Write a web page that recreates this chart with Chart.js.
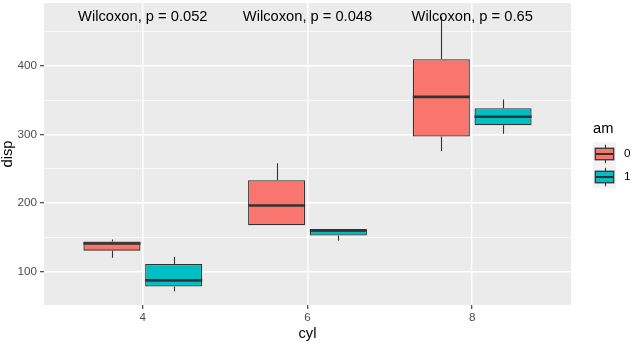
<!DOCTYPE html>
<html><head><meta charset="utf-8">
<script src="https://cdn.jsdelivr.net/npm/chart.js@4/dist/chart.umd.min.js"></script>
<style>html,body{margin:0;padding:0;background:#fff;}#wrap{width:637px;height:345px;position:relative;}</style>
</head><body><div id="wrap"><canvas id="c" width="637" height="345"></canvas></div>
<script>
// categories (cyl) and groups (am)
const categories = ['4', '6', '8'];
const groups = ['0', '1'];
// five-number summaries of disp, am = 0
const am0Min = [120.1, 167.6, 275.8];
const am0Q1  = [130.45, 167.6, 296.95];
const am0Med = [140.8, 196.3, 355.0];
const am0Q3  = [143.75, 233.25, 410.0];
const am0Max = [146.7, 258.0, 472.0];
// five-number summaries of disp, am = 1
const am1Min = [71.1, 145.0, 301.0];
const am1Q1  = [77.95, 152.5, 313.5];
const am1Med = [87.05, 160.0, 326.0];
const am1Q3  = [111.075, 160.0, 338.5];
const am1Max = [121.0, 160.0, 351.0];
// annotations
const pLabels = ['Wilcoxon, p = 0.052', 'Wilcoxon, p = 0.048', 'Wilcoxon, p = 0.65'];
const pLabelY = [472, 472, 472];
// tick values
const yMajorTicks = [100, 200, 300, 400];
const yMinorTicks = [150, 250, 350, 450];
const xTickPositions = [1, 2, 3];

const FONT = '"Liberation Sans", Arial, "DejaVu Sans", sans-serif';
const colors = ['#F8766D', '#00BFC4'];
const stats = [
  {min: am0Min, q1: am0Q1, med: am0Med, q3: am0Q3, max: am0Max},
  {min: am1Min, q1: am1Q1, med: am1Med, q3: am1Q3, max: am1Max}
];

const datasets = stats.map((s, gi) => ({
  label: groups[gi],
  data: categories.map((c, i) => ({x: xTickPositions[i], y: [s.q1[i], s.q3[i]]})),
  backgroundColor: colors[gi],
  borderColor: '#333333',
  borderWidth: 1.3,
  borderSkipped: false,
  barPercentage: 0.924,
  categoryPercentage: 0.75
}));

const panelBg = {
  id: 'panelBg',
  beforeDraw(chart) {
    const {ctx, chartArea: a} = chart;
    ctx.save();
    ctx.fillStyle = '#EBEBEB';
    ctx.fillRect(a.left, a.top, a.right - a.left, a.bottom - a.top);
    ctx.restore();
  }
};

const boxExtras = {
  id: 'boxExtras',
  afterDatasetsDraw(chart) {
    const ctx = chart.ctx, ys = chart.scales.y;
    stats.forEach((s, di) => {
      const meta = chart.getDatasetMeta(di);
      meta.data.forEach((bar, i) => {
        const x = Math.round(bar.x) + 0.5;
        const w = bar.width;
        ctx.save();
        ctx.strokeStyle = '#333333';
        ctx.lineWidth = 1.1;
        ctx.beginPath();
        ctx.moveTo(x, ys.getPixelForValue(s.q3[i]));
        ctx.lineTo(x, ys.getPixelForValue(s.max[i]));
        ctx.moveTo(x, ys.getPixelForValue(s.q1[i]));
        ctx.lineTo(x, ys.getPixelForValue(s.min[i]));
        ctx.stroke();
        ctx.lineWidth = 2.6;
        ctx.beginPath();
        const ym = ys.getPixelForValue(s.med[i]);
        ctx.moveTo(bar.x - w / 2, ym);
        ctx.lineTo(bar.x + w / 2, ym);
        ctx.stroke();
        ctx.restore();
      });
    });
  }
};

const annotations = {
  id: 'annotations',
  afterDraw(chart) {
    const ctx = chart.ctx, xs = chart.scales.x, ys = chart.scales.y;
    ctx.save();
    ctx.fillStyle = '#000000';
    ctx.font = '14.7px ' + FONT;
    ctx.textAlign = 'center';
    ctx.textBaseline = 'middle';
    pLabels.forEach((t, i) => {
      ctx.fillText(t, xs.getPixelForValue(xTickPositions[i]), ys.getPixelForValue(pLabelY[i]));
    });
    ctx.restore();
  }
};

const boxLegend = {
  id: 'boxLegend',
  afterDraw(chart) {
    const ctx = chart.ctx, a = chart.chartArea;
    const left = a.right + 22;
    const key = 23;
    const top0 = 142.5;
    ctx.save();
    ctx.fillStyle = '#000000';
    ctx.font = '14.7px ' + FONT;
    ctx.textAlign = 'left';
    ctx.textBaseline = 'middle';
    ctx.fillText('am', left, 129);
    groups.forEach((g, gi) => {
      const top = top0 + gi * key;
      ctx.fillStyle = '#F2F2F2';
      ctx.fillRect(left, top, key, key);
      const cx = Math.round(left + key / 2) + 0.5;
      ctx.strokeStyle = '#333333';
      ctx.lineWidth = 1.1;
      ctx.beginPath();
      ctx.moveTo(cx, top + key * 0.1);
      ctx.lineTo(cx, top + key * 0.25);
      ctx.moveTo(cx, top + key * 0.75);
      ctx.lineTo(cx, top + key * 0.9);
      ctx.stroke();
      ctx.fillStyle = colors[gi];
      const bx = left + key * 0.1, bw = key * 0.8, by = top + key * 0.25, bh = key * 0.5;
      ctx.fillRect(bx, by, bw, bh);
      ctx.lineWidth = 1.3;
      ctx.strokeRect(bx, by, bw, bh);
      ctx.lineWidth = 2;
      ctx.beginPath();
      ctx.moveTo(bx, top + key / 2);
      ctx.lineTo(bx + bw, top + key / 2);
      ctx.stroke();
      ctx.fillStyle = '#000000';
      ctx.font = '11.7px ' + FONT;
      ctx.fillText(g, left + key + 8, top + key / 2);
    });
    ctx.restore();
  }
};

new Chart(document.getElementById('c'), {
  type: 'bar',
  data: {datasets},
  options: {
    responsive: false,
    animation: false,
    layout: {padding: {top: 3, right: 66, left: 0, bottom: 0}},
    plugins: {legend: {display: false}, tooltip: {enabled: false}},
    scales: {
      x: {
        type: 'linear',
        min: 0.4, max: 3.6,
        offset: false,
        afterBuildTicks(s) { s.ticks = xTickPositions.map(v => ({value: v})); },
        afterFit(s) { s.height = 40; s.paddingLeft = 0; s.paddingRight = 0; },
        border: {display: false},
        grid: {offset: false, color: '#FFFFFF', lineWidth: 1.4, tickColor: '#333333', tickLength: 4, tickWidth: 1.1},
        ticks: {
          autoSkip: false, maxRotation: 0, padding: 2,
          color: '#4D4D4D', font: {family: FONT, size: 11.7},
          callback: (v) => categories[xTickPositions.indexOf(v)]
        },
        title: {display: true, text: 'cyl', color: '#000000', font: {family: FONT, size: 14.7, lineHeight: 1.2}, padding: {top: 0, bottom: 2}}
      },
      y: {
        type: 'linear',
        min: 51.05, max: 492.05,
        afterBuildTicks(s) { s.ticks = [...yMajorTicks, ...yMinorTicks].sort((a, b) => a - b).map(v => ({value: v})); },
        afterFit(s) { s.width = 44; s.paddingTop = 0; s.paddingBottom = 0; },
        border: {display: false},
        grid: {
          color: '#FFFFFF',
          lineWidth: (c) => (c.tick && yMajorTicks.includes(c.tick.value)) ? 1.4 : 0.7,
          tickColor: (c) => (c.tick && yMajorTicks.includes(c.tick.value)) ? '#333333' : 'rgba(0,0,0,0)',
          tickLength: 4, tickWidth: 1.1
        },
        ticks: {
          autoSkip: false, padding: 3,
          color: '#4D4D4D', font: {family: FONT, size: 11.7},
          callback: (v) => yMajorTicks.includes(v) ? String(v) : ''
        },
        title: {display: true, text: 'disp', color: '#000000', font: {family: FONT, size: 14.7, lineHeight: 1.0}, padding: {top: 1, bottom: 0}}
      }
    }
  },
  plugins: [panelBg, boxExtras, annotations, boxLegend]
});
</script></body></html>
